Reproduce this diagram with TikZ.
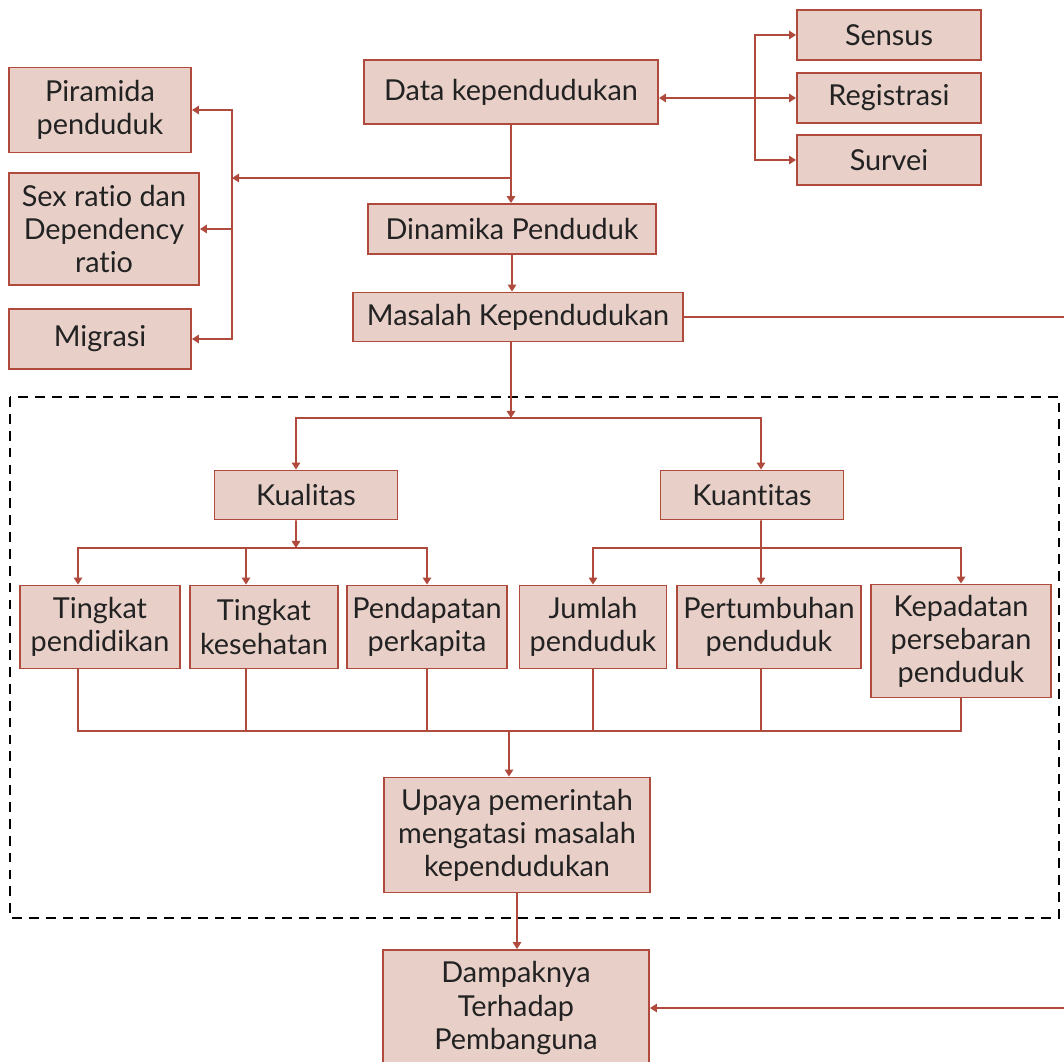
\documentclass[tikz,border=0pt]{standalone}
\usepackage{fontspec}
\setmainfont{Lato}[Ligatures=NoCommon]
\usetikzlibrary{arrows.meta}
\definecolor{rust}{HTML}{B04A3C}
\definecolor{boxfill}{HTML}{E8D0C8}
\definecolor{ink}{HTML}{222222}
\tikzset{
  box/.style={draw=rust, fill=boxfill, line width=1.3pt, text=ink, inner sep=0pt,
    align=center, font=\fontsize{20.5}{23.5}\selectfont},
  link/.style={draw=rust, line width=1.3pt},
  arr/.style={link, -{Triangle[width=6pt,length=5pt]}},
  biarr/.style={link, {Triangle[width=6pt,length=5pt]}-{Triangle[width=6pt,length=5pt]}},
}

\begin{document}
\begin{tikzpicture}[x=0.025cm,y=-0.025cm]
  \useasboundingbox (0,0) rectangle (1064,1061);
  %\draw[very thin,lightgray] (0,0) grid[step=100] (1064,1061);
  \draw[line width=1.3pt, dash pattern=on 7pt off 5pt] (10,397) rectangle (1059,918);

  % top part
  \node[box, minimum width=7.35cm, minimum height=1.6cm] (data) at (511,92) {Data kependudukan};
  \node[box, minimum width=4.6cm, minimum height=1.25cm] (sensus) at (889,35) {Sensus};
  \node[box, minimum width=4.6cm, minimum height=1.25cm] (registrasi) at (889,98) {Registrasi};
  \node[box, minimum width=4.6cm, minimum height=1.25cm] (survei) at (889,160) {Survei};
  \node[box, minimum width=4.55cm, minimum height=2.125cm] (piramida) at (100,110) {Piramida\\penduduk};
  \node[box, minimum width=4.75cm, minimum height=2.8cm] (sexratio) at (104,229) {Sex ratio dan\\Dependency\\ratio};
  \node[box, minimum width=4.55cm, minimum height=1.5cm] (migrasi) at (100,339) {Migrasi};
  \node[box, minimum width=7.2cm, minimum height=1.25cm] (dinamika) at (512,229) {Dinamika Penduduk};
  \node[box, minimum width=8.25cm, minimum height=1.225cm] (masalah) at (518,317) {Masalah Kependudukan};

  % inside the dashed frame
  \node[box, minimum width=4.575cm, minimum height=1.225cm] (kualitas) at (306,495) {Kualitas};
  \node[box, minimum width=4.575cm, minimum height=1.225cm] (kuantitas) at (752,495) {Kuantitas};
  \node[box, minimum width=4cm, minimum height=2.075cm] (pendidikan) at (100,627) {Tingkat\\pendidikan};
  \node[box, minimum width=3.7cm, minimum height=2.075cm] (kesehatan) at (264,627) {Tingkat\\kesehatan};
  \node[box, minimum width=4cm, minimum height=2.075cm] (pendapatan) at (427,627) {Pendapatan\\perkapita};
  \node[box, minimum width=3.675cm, minimum height=2.075cm] (jumlah) at (593,627) {Jumlah\\penduduk};
  \node[box, minimum width=4.6cm, minimum height=2.075cm] (pertumbuhan) at (769,627) {Pertumbuhan\\penduduk};
  \node[box, minimum width=4.5cm, minimum height=2.825cm] (kepadatan) at (961,641) {Kepadatan\\persebaran\\penduduk};
  \node[box, minimum width=6.65cm, minimum height=2.875cm] (upaya) at (517,835) {Upaya pemerintah\\mengatasi masalah\\kependudukan};
  \node[box, minimum width=6.65cm, minimum height=2.9cm] (dampak) at (516,1008) {Dampaknya\\Terhadap\\Pembanguna};

  \coordinate (sj) at (755,98);
  \coordinate (lj) at (232,178);
  \coordinate (qj) at (511,418);
  \coordinate (klj) at (296,548);
  \coordinate (knj) at (761,548);
  \coordinate (bj) at (509,731);
  \coordinate (rj) at (1075,317);

  % data sources
  \draw[biarr] (registrasi.west -| data.east) -- (registrasi.west);
  \draw[arr] (sj) |- (sensus.west);
  \draw[arr] (sj) |- (survei.west);

  % left branch
  \draw[arr] (data.south |- lj) -- (lj);
  \draw[arr] (lj) |- (piramida.east);
  \draw[arr] (lj) |- (migrasi.east);
  \draw[arr] (sexratio.east -| lj) -- (sexratio.east);

  % main column
  \draw[arr] (data.south) -- (data.south |- dinamika.north);
  \draw[arr] (dinamika.south) -- (dinamika.south |- masalah.north);
  \draw[arr] (masalah.south -| qj) -- (qj);
  \draw[arr] (qj) -| ([xshift=-0.25cm]kualitas.north);
  \draw[arr] (qj) -| ([xshift=0.225cm]kuantitas.north);

  % kualitas
  \draw[arr] ([xshift=-0.25cm]kualitas.south) -- (klj);
  \draw[arr] (klj) -| ([xshift=-0.55cm]pendidikan.north);
  \draw[arr] (klj) -| ([xshift=-0.45cm]kesehatan.north);
  \draw[arr] (klj) -| (pendapatan.north);
  % kuantitas
  \draw[arr] ([xshift=0.225cm]kuantitas.south) -- ([xshift=-0.2cm]pertumbuhan.north);
  \draw[arr] (knj) -| (jumlah.north);
  \draw[arr] (knj) -| (kepadatan.north);

  % join to upaya
  \draw[link] ([xshift=-0.55cm]pendidikan.south) |- (kepadatan.south |- bj) -- (kepadatan.south);
  \foreach \n/\s in {kesehatan/-0.45cm, pendapatan/0cm, jumlah/0cm, pertumbuhan/-0.2cm}
    \draw[link] ([xshift=\s]\n.south) -- ([xshift=\s]\n.south |- bj);
  \draw[arr] (bj) -- (bj |- upaya.north);
  \draw[arr] (upaya.south) -- (upaya.south |- dampak.north);

  % feedback to dampak
  \draw[arr] (masalah.east) -- (rj) |- (dampak.east);
\end{tikzpicture}
\end{document}
